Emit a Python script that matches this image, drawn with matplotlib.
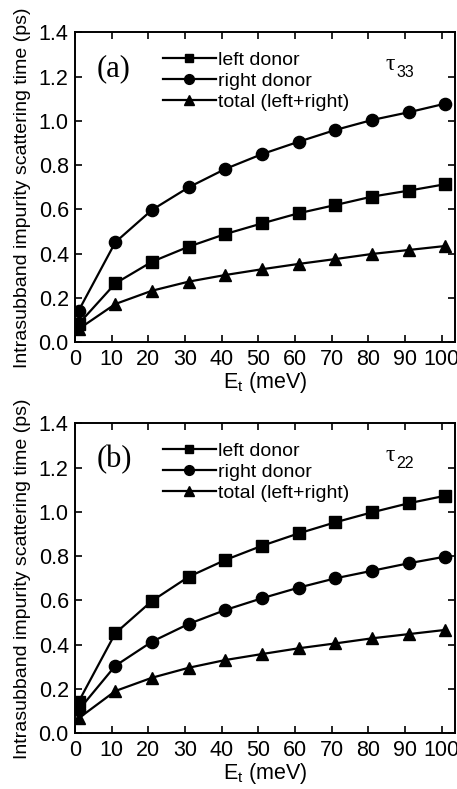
import matplotlib
matplotlib.use("Agg")
import matplotlib.pyplot as plt

# Threshold energy E_t (meV)
energy = [1, 11, 21, 31, 41, 51, 61, 71, 81, 91, 101]

# (a) tau_33
a_left = [0.083, 0.266, 0.364, 0.432, 0.489, 0.537, 0.583, 0.620, 0.658, 0.685, 0.714]
a_right = [0.143, 0.452, 0.598, 0.700, 0.783, 0.850, 0.906, 0.959, 1.004, 1.039, 1.078]
a_total = [0.060, 0.173, 0.233, 0.274, 0.304, 0.330, 0.354, 0.376, 0.399, 0.417, 0.435]

# (b) tau_22
b_left = [0.143, 0.452, 0.598, 0.707, 0.783, 0.847, 0.903, 0.953, 0.998, 1.039, 1.073]
b_right = [0.105, 0.305, 0.414, 0.494, 0.557, 0.610, 0.658, 0.700, 0.734, 0.768, 0.798]
b_total = [0.068, 0.191, 0.251, 0.296, 0.331, 0.358, 0.384, 0.406, 0.429, 0.448, 0.467]

series_labels = ["left donor", "right donor", "total (left+right)"]
markers = ["s", "o", "^"]
marker_sizes = [8.0, 8.8, 9.0]
x_ticks = [0, 10, 20, 30, 40, 50, 60, 70, 80, 90, 100]
y_ticks = [0.0, 0.2, 0.4, 0.6, 0.8, 1.0, 1.2, 1.4]

SANS = "Liberation Sans"
SERIF = "Liberation Serif"
plt.rcParams["font.family"] = SANS
plt.rcParams["mathtext.fontset"] = "custom"
plt.rcParams["mathtext.rm"] = SANS

fig = plt.figure(figsize=(4.57, 7.89), dpi=100)
W, H = 457, 789


def make_axes(top_px):
    left, right, height = 75, 455, 310
    return fig.add_axes([left / W, 1 - (top_px + height) / H, (right - left) / W, height / H])


panels = [
    (make_axes(32.3), (a_left, a_right, a_total), "(a)", "33"),
    (make_axes(423.3), (b_left, b_right, b_total), "(b)", "22"),
]

for ax, data, tag, sub in panels:
    for y, m, ms, lab in zip(data, markers, marker_sizes, series_labels):
        ax.plot(energy, y, color="black", lw=1.6, marker=m, ms=ms,
                markerfacecolor="black", markeredgecolor="black", label=lab)
    ax.set_xlim(0, 103.6)
    ax.set_ylim(0, 1.4)
    ax.set_xticks(x_ticks)
    ax.set_yticks(y_ticks)
    ax.set_yticklabels([f"{v:.1f}" for v in y_ticks])
    ax.tick_params(direction="in", top=True, right=True, length=5, width=1.2,
                   labelsize=15.5, pad=4.5)
    for s in ax.spines.values():
        s.set_linewidth(1.4)
    ax.set_xlabel(r"E$_\mathregular{t}$ (meV)", fontsize=15.5)
    ax.xaxis.set_label_coords(0.5, -0.09)
    ax.set_ylabel("Intrasubband impurity scattering time (ps)", fontsize=14)
    ax.yaxis.set_label_coords(-0.116, 0.5)
    ax.text(0.058, 0.857, tag, transform=ax.transAxes, fontsize=22,
            family=SERIF, ha="left", va="baseline")
    ax.text(0.817, 0.878, "\u03c4", transform=ax.transAxes, fontsize=17,
            family=SERIF, ha="left", va="baseline")
    ax.text(0.845, 0.855, sub, transform=ax.transAxes, fontsize=11.5,
            ha="left", va="baseline")
    ax.legend(loc="upper left", bbox_to_anchor=(0.232, 0.94), frameon=False,
              fontsize=14, handlelength=2.7, handletextpad=0.1,
              labelspacing=0.18, borderaxespad=0, borderpad=0,
              markerscale=0.8)

fig.savefig("out.png", dpi=100)
